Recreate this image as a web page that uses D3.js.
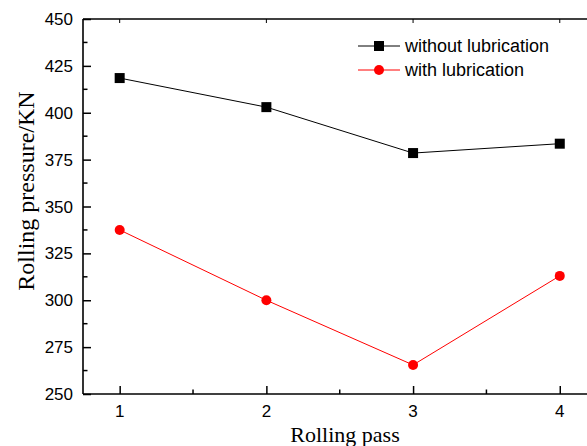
<!DOCTYPE html>
<html>
<head>
<meta charset="utf-8">
<script src="https://cdn.jsdelivr.net/npm/d3@7"></script>
<style>
  body { margin: 0; background: #fff; }
  svg { display: block; }
</style>
</head>
<body>
<svg id="chart" width="587" height="446"></svg>
<script>
// data
const passes = [1, 2, 3, 4];
const withoutLub = [418.5, 403, 378.5, 383.5];
const withLub = [337.5, 300, 265.5, 313];
const yTicks = [250, 275, 300, 325, 350, 375, 400, 425, 450];
const seriesNames = ['without lubrication', 'with lubrication'];

const svg = d3.select('#chart');
const margin = { left: 83, top: 19, bottom: 394 };

const x = d3.scaleLinear().domain([0.75, 4.25]).range([margin.left, margin.left + 3.5 * 146.7]);
const y = d3.scaleLinear().domain([250, 450]).range([margin.bottom, margin.top]);

const sans = 'Arial, "Liberation Sans", sans-serif';
const serif = '"Times New Roman", "Liberation Serif", serif';

// y axis, ticks inward
const yAx = svg.append('g').attr('transform', `translate(${margin.left},0)`)
  .call(d3.axisRight(y).tickValues(yTicks).tickSize(8).tickFormat(''));
yAx.select('.domain').remove();
yAx.selectAll('line').attr('stroke', '#000').attr('stroke-width', 1.5);
svg.append('g').selectAll('text').data(yTicks).enter().append('text')
  .attr('x', margin.left - 10).attr('y', d => y(d) + 6)
  .attr('text-anchor', 'end').attr('font-family', sans).attr('font-size', 17)
  .text(d => d);
// minor y ticks
svg.append('g').selectAll('line').data(d3.range(262.5, 450, 25)).enter().append('line')
  .attr('x1', margin.left).attr('x2', margin.left + 4.5)
  .attr('y1', d => y(d)).attr('y2', d => y(d))
  .attr('stroke', '#000').attr('stroke-width', 1.5);

// x axis bottom, ticks inward
const xAx = svg.append('g').attr('transform', `translate(0,${margin.bottom})`)
  .call(d3.axisTop(x).tickValues(passes).tickSize(8).tickFormat(''));
xAx.select('.domain').remove();
xAx.selectAll('line').attr('stroke', '#000').attr('stroke-width', 1.5);
svg.append('g').selectAll('text').data(passes).enter().append('text')
  .attr('x', d => x(d)).attr('y', margin.bottom + 23)
  .attr('text-anchor', 'middle').attr('font-family', sans).attr('font-size', 17)
  .text(d => d);
svg.append('g').selectAll('line').data([1.5, 2.5, 3.5]).enter().append('line')
  .attr('x1', d => x(d)).attr('x2', d => x(d))
  .attr('y1', margin.bottom).attr('y2', margin.bottom - 4.5)
  .attr('stroke', '#000').attr('stroke-width', 1.5);
// top axis ticks
svg.append('g').selectAll('line').data(passes).enter().append('line')
  .attr('x1', d => x(d)).attr('x2', d => x(d))
  .attr('y1', margin.top).attr('y2', margin.top + 4)
  .attr('stroke', '#000').attr('stroke-width', 1);

// frame lines
svg.append('line').attr('x1', margin.left).attr('x2', 587)
  .attr('y1', margin.bottom).attr('y2', margin.bottom)
  .attr('stroke', '#000').attr('stroke-width', 1.6);
svg.append('line').attr('x1', margin.left).attr('x2', 587)
  .attr('y1', margin.top).attr('y2', margin.top)
  .attr('stroke', '#000').attr('stroke-width', 1.6);
svg.append('line').attr('x1', margin.left).attr('x2', margin.left)
  .attr('y1', margin.top).attr('y2', margin.bottom)
  .attr('stroke', '#000').attr('stroke-width', 1.6);

// series
const line = d3.line().x((d, i) => x(passes[i])).y(d => y(d));
svg.append('path').datum(withoutLub).attr('d', line)
  .attr('fill', 'none').attr('stroke', '#000').attr('stroke-width', 1);
svg.append('g').selectAll('rect').data(withoutLub).enter().append('rect')
  .attr('x', (d, i) => x(passes[i]) - 5).attr('y', d => y(d) - 5)
  .attr('width', 10).attr('height', 10).attr('fill', '#000');

svg.append('path').datum(withLub).attr('d', line)
  .attr('fill', 'none').attr('stroke', '#ff0000').attr('stroke-width', 1);
svg.append('g').selectAll('circle').data(withLub).enter().append('circle')
  .attr('cx', (d, i) => x(passes[i])).attr('cy', d => y(d))
  .attr('r', 5).attr('fill', '#ff0000');

// legend
const leg = svg.append('g');
seriesNames.forEach((name, i) => {
  const ly = 46 + i * 24;
  const col = i === 0 ? '#000' : '#ff0000';
  leg.append('line').attr('x1', 358).attr('x2', 400).attr('y1', ly).attr('y2', ly)
    .attr('stroke', col).attr('stroke-width', 1);
  if (i === 0) {
    leg.append('rect').attr('x', 374).attr('y', ly - 5).attr('width', 10).attr('height', 10).attr('fill', col);
  } else {
    leg.append('circle').attr('cx', 379).attr('cy', ly).attr('r', 5).attr('fill', col);
  }
  leg.append('text').attr('x', 405).attr('y', ly + 6)
    .attr('font-family', sans).attr('font-size', 18).text(name);
});

// axis titles
svg.append('text').attr('x', 345).attr('y', 442)
  .attr('text-anchor', 'middle').attr('font-family', serif).attr('font-size', 22)
  .text('Rolling pass');
svg.append('text').attr('transform', 'translate(34,191) rotate(-90)')
  .attr('text-anchor', 'middle').attr('font-family', serif).attr('font-size', 24)
  .text('Rolling pressure/KN');
</script>
</body>
</html>
